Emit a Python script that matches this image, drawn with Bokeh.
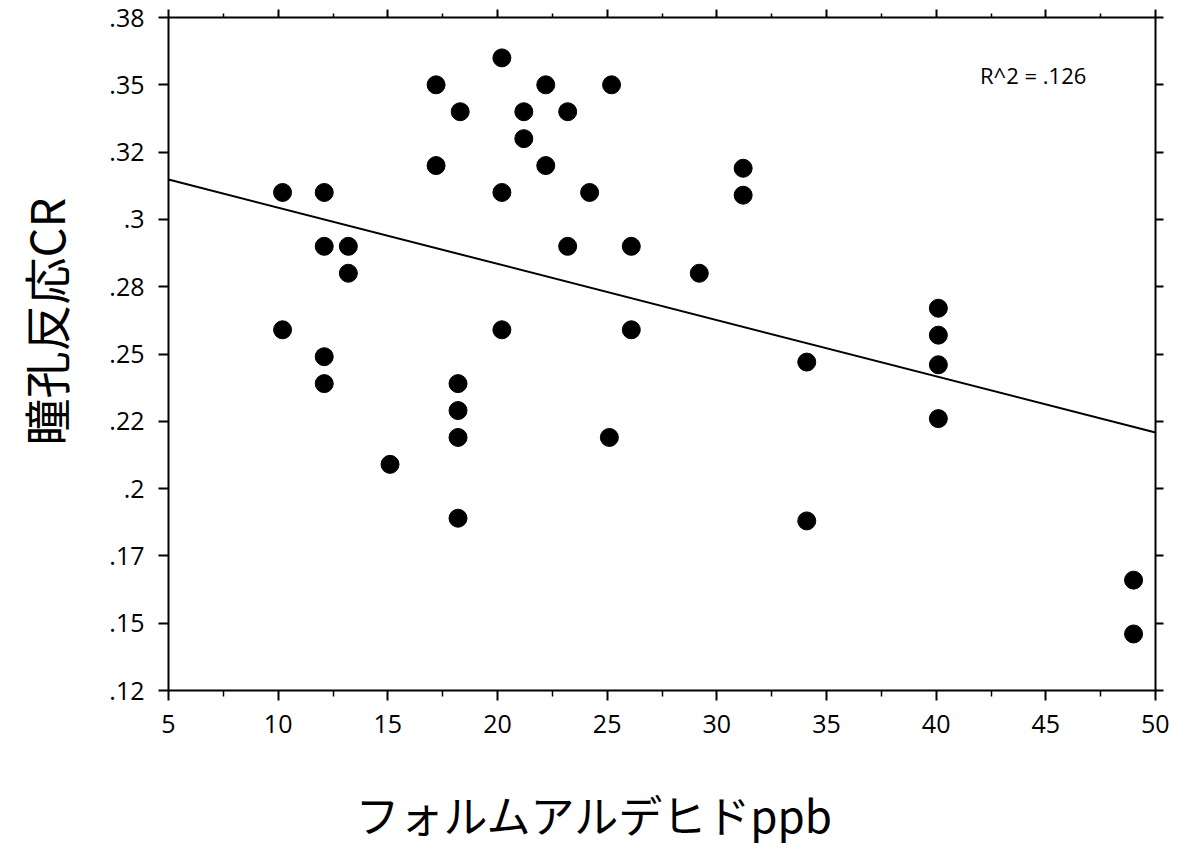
import numpy as np
from bokeh.plotting import figure
from bokeh.models import LinearAxis, FixedTicker, Label, Range1d, Title
from bokeh.embed import file_html
from bokeh.resources import INLINE

# ---- data ----
formaldehyde_ppb = [10.2, 10.2,
                    12.1, 12.1, 12.1, 12.1,
                    13.2, 13.2,
                    15.1,
                    17.2, 17.2,
                    18.3,
                    18.2, 18.2, 18.2, 18.2,
                    20.2, 20.2, 20.2,
                    21.2, 21.2,
                    22.2, 22.2,
                    23.2, 23.2,
                    24.2,
                    25.2, 25.1,
                    26.1, 26.1,
                    29.2,
                    31.2, 31.2,
                    34.1, 34.1,
                    40.1, 40.1, 40.1, 40.1,
                    49.0, 49.0]
pupil_cr = [0.310, 0.259,
            0.310, 0.290, 0.249, 0.239,
            0.290, 0.280,
            0.209,
            0.350, 0.320,
            0.340,
            0.239, 0.229, 0.219, 0.189,
            0.360, 0.310, 0.259,
            0.340, 0.330,
            0.350, 0.320,
            0.340, 0.290,
            0.310,
            0.350, 0.219,
            0.290, 0.259,
            0.280,
            0.319, 0.309,
            0.247, 0.188,
            0.267, 0.257, 0.246, 0.226,
            0.166, 0.146]

x_min, x_max = 5, 50
y_min, y_max = 0.125, 0.375
x_ticks = [5, 10, 15, 20, 25, 30, 35, 40, 45, 50]
x_minor_ticks = [7.5, 12.5, 17.5, 22.5, 27.5, 32.5, 37.5, 42.5, 47.5]
y_ticks = [0.125, 0.15, 0.175, 0.2, 0.225, 0.25, 0.275, 0.3, 0.325, 0.35, 0.375]
y_tick_labels = [".12", ".15", ".17", ".2", ".22", ".25", ".28", ".3", ".32", ".35", ".38"]
r2_text = "R^2 = .126"
x_title = "フォルムアルデヒドppb"
y_title = "瞳孔反応CR"

TICK_FONT = "Open Sans"
CJK_FONT = "Noto Sans CJK JP"

p = figure(width=1169, height=850, output_backend="svg", toolbar_location=None,
           x_range=Range1d(x_min, x_max), y_range=Range1d(y_min, y_max),
           x_axis_location=None, y_axis_location=None,
           min_border_left=168, min_border_right=14, min_border_top=17, min_border_bottom=160)
p.xgrid.visible = False
p.ygrid.visible = False
p.outline_line_color = None
p.background_fill_color = "white"
p.border_fill_color = "white"


def style(ax, labels=True):
    ax.axis_line_color = "black"
    ax.axis_line_width = 2
    ax.major_tick_line_color = "black"
    ax.major_tick_line_width = 2
    ax.minor_tick_line_color = "black"
    ax.minor_tick_line_width = 1.5
    ax.major_tick_in = 0
    ax.minor_tick_in = 0
    if labels:
        ax.major_label_text_font = TICK_FONT
        ax.major_label_text_font_size = "25px"
        ax.major_label_text_color = "black"
    else:
        ax.major_label_text_font_size = "1px"
        ax.major_label_text_alpha = 0
        ax.major_label_standoff = 0


def spacer(size, tick):
    ax = LinearAxis(ticker=FixedTicker(ticks=[tick], minor_ticks=[]))
    ax.axis_line_alpha = 0
    ax.major_tick_line_alpha = 0
    ax.minor_tick_line_alpha = 0
    ax.major_tick_out = size
    ax.major_tick_in = 0
    ax.minor_tick_out = 0
    ax.major_label_standoff = 0
    ax.major_label_text_font_size = "1px"
    ax.major_label_text_alpha = 0
    return ax


xt = FixedTicker(ticks=x_ticks, minor_ticks=x_minor_ticks)
yt = FixedTicker(ticks=y_ticks)
overrides = {t: l for t, l in zip(y_ticks, y_tick_labels)}

bottom = LinearAxis(ticker=xt)
style(bottom)
bottom.major_tick_out = 10
bottom.minor_tick_out = 6
bottom.major_label_standoff = 14
p.add_layout(bottom, "below")

top = LinearAxis(ticker=xt)
style(top, labels=False)
top.major_tick_out = 8
top.minor_tick_out = 4
p.add_layout(top, "above")

left = LinearAxis(ticker=yt, major_label_overrides=overrides)
style(left)
left.major_tick_out = 10
left.minor_tick_out = 0
left.major_label_standoff = 14
p.add_layout(left, "left")

right = LinearAxis(ticker=yt)
style(right, labels=False)
right.major_tick_out = 8
right.minor_tick_out = 0
p.add_layout(right, "right")

# axis titles (invisible spacer axes push them outward)
p.add_layout(spacer(26, y_min), "left")
p.add_layout(Title(text=y_title, text_font=CJK_FONT, text_font_size="47px",
                   text_font_style="normal", text_color="black",
                   align="left", offset=245, standoff=4), "left")
p.add_layout(spacer(42, x_min), "below")
p.add_layout(Title(text=x_title, text_font=CJK_FONT, text_font_size="44px",
                   text_font_style="normal", text_color="black",
                   align="left", offset=187, standoff=4), "below")

# regression line from the data
coef = np.polyfit(np.array(formaldehyde_ppb), np.array(pupil_cr), 1)
line_x = np.array([x_min, x_max], dtype=float)
p.line(line_x, np.polyval(coef, line_x), line_color="black", line_width=2)

p.scatter(formaldehyde_ppb, pupil_cr, size=18, marker="circle",
          fill_color="black", line_color="black")

p.add_layout(Label(x=42.0, y=0.3535, text=r2_text, text_font=TICK_FONT,
                   text_font_size="22px", text_color="black",
                   text_baseline="middle", text_align="left"))

open("out.html", "w").write(file_html(p, INLINE))
